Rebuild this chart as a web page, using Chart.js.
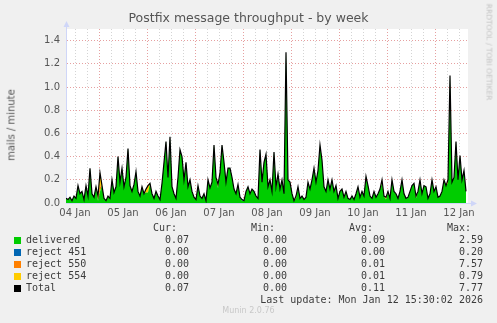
<!DOCTYPE html>
<html>
<head>
<meta charset="utf-8">
<script src="https://cdn.jsdelivr.net/npm/chart.js@4.4.1/dist/chart.umd.min.js"></script>
<style>
  html, body { margin: 0; padding: 0; background: #f0f0f0; }
  #wrap { position: relative; width: 497px; height: 323px; overflow: hidden; background: #f0f0f0; }
  #c { position: absolute; left: 0; top: 0; }
  .t { position: absolute; white-space: pre; }
  #title { left: 0; width: 497px; top: 10px; text-align: center; font: 12.5px "DejaVu Sans", sans-serif; color: #555; }
  #ytitle { left: 11px; top: 125px; transform: translate(-50%, -50%) rotate(-90deg); font: 10px "DejaVu Sans", sans-serif; color: #555; }
  #rrd { left: 489px; top: 52px; transform: translate(-50%, -50%) rotate(90deg); font: 7.5px "DejaVu Sans", sans-serif; color: #c4c4c4; }
  .m { font: 10px "DejaVu Sans Mono", monospace; color: #3c3c3c; line-height: 12px; }
  .r { text-align: right; }
  .sq { position: absolute; width: 7px; height: 7px; }
  #munin { left: 0; width: 497px; top: 306px; text-align: center; font: 8px "DejaVu Sans", sans-serif; color: #c8c8c8; }
</style>
</head>
<body>
<div id="wrap">
  <canvas id="c" width="497" height="323"></canvas>
  <div id="title" class="t">Postfix message throughput - by week</div>
  <div id="ytitle" class="t">mails / minute</div>
  <div id="rrd" class="t">RRDTOOL / TOBI OETIKER</div>
  <div id="legend"></div>
  <div id="munin" class="t">Munin 2.0.76</div>
</div>
<script>
// ---- data (hourly samples, mails / minute) ----
const dayLabels = ['04 Jan','05 Jan','06 Jan','07 Jan','08 Jan','09 Jan','10 Jan','11 Jan','12 Jan'];
const yTickLabels = ['0.0','0.2','0.4','0.6','0.8','1.0','1.2','1.4'];

const total = [0.04,0.03,0.05,0.02,0.06,0.04,0.15,0.08,0.10,0.03,
 0.15,0.06,0.30,0.08,0.05,0.14,0.06,0.26,0.15,0.04,
 0.02,0.06,0.04,0.20,0.09,0.14,0.40,0.18,0.30,0.14,
 0.22,0.47,0.15,0.10,0.16,0.27,0.10,0.06,0.14,0.08,
 0.12,0.15,0.17,0.08,0.04,0.10,0.06,0.03,0.17,0.35,
 0.53,0.22,0.57,0.14,0.08,0.04,0.22,0.46,0.40,0.20,
 0.35,0.14,0.20,0.10,0.05,0.03,0.15,0.06,0.04,0.08,
 0.02,0.20,0.13,0.18,0.50,0.22,0.16,0.26,0.50,0.35,
 0.18,0.30,0.30,0.22,0.12,0.08,0.16,0.05,0.03,0.02,
 0.10,0.14,0.08,0.12,0.10,0.06,0.04,0.46,0.18,0.35,
 0.42,0.14,0.20,0.10,0.44,0.14,0.25,0.12,0.20,0.08,
 1.30,0.20,0.18,0.08,0.02,0.06,0.14,0.04,0.06,0.03,
 0.05,0.18,0.12,0.20,0.30,0.18,0.28,0.50,0.37,0.14,
 0.10,0.20,0.12,0.20,0.10,0.15,0.04,0.10,0.12,0.05,
 0.10,0.04,0.03,0.06,0.03,0.08,0.14,0.05,0.10,0.06,
 0.23,0.15,0.06,0.04,0.10,0.05,0.08,0.12,0.20,0.06,
 0.05,0.10,0.04,0.20,0.10,0.08,0.04,0.10,0.20,0.08,
 0.04,0.05,0.10,0.15,0.17,0.06,0.10,0.20,0.08,0.15,
 0.14,0.04,0.08,0.20,0.10,0.14,0.05,0.06,0.10,0.20,
 0.15,0.20,1.10,0.18,0.22,0.53,0.20,0.41,0.20,0.28,
 0.10];

const delivered = [0.04,0.03,0.05,0.02,0.06,0.04,0.15,0.08,0.10,0.03,
 0.15,0.06,0.30,0.08,0.05,0.14,0.02,0.10,0.15,0.04,
 0.02,0.06,0.04,0.20,0.09,0.14,0.40,0.18,0.30,0.14,
 0.22,0.47,0.15,0.10,0.16,0.27,0.10,0.06,0.14,0.08,
 0.09,0.09,0.17,0.08,0.04,0.10,0.06,0.03,0.17,0.35,
 0.53,0.22,0.57,0.14,0.08,0.04,0.22,0.46,0.40,0.20,
 0.35,0.14,0.20,0.10,0.05,0.03,0.15,0.06,0.04,0.08,
 0.02,0.20,0.13,0.18,0.50,0.22,0.13,0.26,0.50,0.35,
 0.18,0.30,0.30,0.22,0.12,0.08,0.16,0.05,0.02,0.02,
 0.10,0.14,0.08,0.12,0.10,0.06,0.04,0.46,0.18,0.35,
 0.42,0.14,0.20,0.10,0.44,0.12,0.25,0.12,0.20,0.08,
 1.30,0.20,0.18,0.08,0.02,0.04,0.14,0.04,0.06,0.03,
 0.05,0.18,0.12,0.20,0.30,0.18,0.28,0.50,0.37,0.14,
 0.10,0.20,0.12,0.20,0.10,0.15,0.04,0.10,0.12,0.05,
 0.10,0.04,0.03,0.06,0.03,0.08,0.14,0.05,0.10,0.06,
 0.23,0.15,0.06,0.04,0.10,0.05,0.08,0.12,0.17,0.06,
 0.03,0.10,0.04,0.20,0.10,0.08,0.04,0.10,0.20,0.08,
 0.04,0.05,0.10,0.15,0.17,0.04,0.10,0.20,0.08,0.15,
 0.14,0.04,0.08,0.20,0.10,0.14,0.05,0.06,0.10,0.20,
 0.15,0.17,1.10,0.18,0.22,0.53,0.20,0.41,0.20,0.28,
 0.10];

// sparse reject samples: [hour index, value]
const reject451 = [[88, 0.01]];
const reject550 = [[17, 0.04], [105, 0.02], [160, 0.02]];
const reject554 = [[16, 0.04], [17, 0.12], [40, 0.03], [41, 0.06], [76, 0.03], [115, 0.02], [158, 0.03], [175, 0.02], [191, 0.03]];

// legend table
const seriesNames = ['delivered','reject 451','reject 550','reject 554','Total'];
const seriesColors = ['#00cc00','#0066b3','#ff8000','#ffcc00','#000000'];
const curVals = ['0.07','0.00','0.00','0.00','0.07'];
const minVals = ['0.00','0.00','0.00','0.00','0.00'];
const avgVals = ['0.09','0.00','0.01','0.01','0.11'];
const maxVals = ['2.59','0.20','7.57','0.79','7.77'];
const lastUpdate = 'Last update: Mon Jan 12 15:30:02 2026';

// ---- build ----
const toPts = arr => arr.map((v, i) => ({x: i, y: v}));
const sparse = pairs => {
  const m = new Map(pairs);
  return total.map((_, i) => ({x: i, y: m.has(i) ? m.get(i) : 0}));
};

const legend = document.getElementById('legend');
function addText(txt, left, top, right) {
  const d = document.createElement('div');
  d.className = 't m' + (right ? ' r' : '');
  d.textContent = txt;
  if (right) { d.style.left = (left - 400) + 'px'; d.style.width = '400px'; }
  else d.style.left = left + 'px';
  d.style.top = top + 'px';
  legend.appendChild(d);
}
addText('Cur:', 177, 222, true);
addText('Min:', 275, 222, true);
addText('Avg:', 373, 222, true);
addText('Max:', 471, 222, true);
seriesNames.forEach((n, i) => {
  const top = 233.5 + i * 12.1;
  const sq = document.createElement('div');
  sq.className = 'sq';
  sq.style.left = '14px';
  sq.style.top = (top + 3) + 'px';
  sq.style.background = seriesColors[i];
  legend.appendChild(sq);
  addText(n, 26, top, false);
  addText(curVals[i], 189, top, true);
  addText(minVals[i], 287, top, true);
  addText(avgVals[i], 385, top, true);
  addText(maxVals[i], 483, top, true);
});
addText(lastUpdate, 483, 294, true);

const HOURS = total.length; // 201 hourly samples
const gridGray = '#d4d4d4';
const gridRed = '#e6a0a0';

const bgPlugin = {
  id: 'bg',
  beforeDraw(chart) {
    const {ctx, chartArea: a} = chart;
    ctx.save();
    ctx.fillStyle = '#ffffff';
    ctx.fillRect(a.left, a.top, a.right - a.left, a.bottom - a.top);
    ctx.restore();
  },
  afterDraw(chart) {
    const {ctx, chartArea: a} = chart;
    ctx.save();
    ctx.fillStyle = '#cfd6f8';
    ctx.strokeStyle = '#cfd6f8';
    ctx.beginPath();
    ctx.moveTo(a.left + 0.5, a.top); ctx.lineTo(a.left + 0.5, a.top - 4); ctx.stroke();
    ctx.beginPath();
    ctx.moveTo(a.left + 0.5, a.top - 8); ctx.lineTo(a.left - 2.5, a.top - 2); ctx.lineTo(a.left + 3.5, a.top - 2); ctx.closePath(); ctx.fill();
    ctx.beginPath();
    ctx.moveTo(a.right, a.bottom + 0.5); ctx.lineTo(a.right + 3, a.bottom + 0.5); ctx.stroke();
    ctx.beginPath();
    ctx.moveTo(a.right + 9, a.bottom + 0.5); ctx.lineTo(a.right + 3, a.bottom - 2.5); ctx.lineTo(a.right + 3, a.bottom + 3.5); ctx.closePath(); ctx.fill();
    ctx.restore();
  }
};

new Chart(document.getElementById('c'), {
  type: 'line',
  data: {
    datasets: [
      { label: 'Total', data: toPts(total), stack: 'total', borderColor: '#000', borderWidth: 1.2, fill: false, pointRadius: 0, tension: 0 },
      { label: 'delivered', data: toPts(delivered), stack: 'parts', borderWidth: 0, borderColor: '#00cc00', backgroundColor: '#00cc00', fill: 'origin', pointRadius: 0, tension: 0 },
      { label: 'reject 451', data: sparse(reject451), stack: 'parts', borderWidth: 0, borderColor: '#0066b3', backgroundColor: '#0066b3', fill: '-1', pointRadius: 0, tension: 0 },
      { label: 'reject 550', data: sparse(reject550), stack: 'parts', borderWidth: 0, borderColor: '#ff8000', backgroundColor: '#ff8000', fill: '-1', pointRadius: 0, tension: 0 },
      { label: 'reject 554', data: sparse(reject554), stack: 'parts', borderWidth: 0, borderColor: '#ffcc00', backgroundColor: '#ffcc00', fill: '-1', pointRadius: 0, tension: 0 }
    ]
  },
  options: {
    responsive: false,
    animation: false,
    events: [],
    layout: { padding: { left: 0, top: 29, right: 29, bottom: 100 } },
    plugins: { legend: { display: false }, title: { display: false }, tooltip: { enabled: false } },
    scales: {
      x: {
        type: 'linear',
        min: 0,
        max: HOURS,
        afterBuildTicks(scale) {
          const t = [];
          for (let v = 4.5; v <= HOURS; v += 6) t.push({value: v});
          scale.ticks = t;
        },
        afterFit(scale) { scale.height = 20; },
        ticks: {
          autoSkip: false, maxRotation: 0, padding: 4,
          color: '#555',
          font: { family: 'DejaVu Sans', size: 10 },
          callback(v) {
            const k = (v - 4.5) / 24;
            return Number.isInteger(k) && dayLabels[k] ? dayLabels[k] : '';
          }
        },
        grid: {
          drawTicks: false,
          lineWidth: 1,
          color(ctx) {
            const v = ctx.tick ? ctx.tick.value : 0;
            return ((v - 16.5) % 24 === 0) ? gridRed : gridGray;
          }
        },
        border: { display: true, color: '#cfd6f8', width: 1, dash: [1, 2] }
      },
      y: {
        stacked: true,
        min: 0,
        max: 1.5,
        afterBuildTicks(scale) {
          const t = [];
          for (let k = 0; k <= 15; k++) t.push({value: k / 10});
          scale.ticks = t;
        },
        afterFit(scale) { scale.width = 66; },
        ticks: {
          padding: 6,
          color: '#555',
          font: { family: 'DejaVu Sans', size: 10 },
          callback(v) {
            const k = Math.round(v * 10);
            return k % 2 === 0 ? yTickLabels[k / 2] : '';
          }
        },
        grid: {
          drawTicks: false,
          lineWidth: 1,
          color(ctx) {
            const v = ctx.tick ? Math.round(ctx.tick.value * 10) : 1;
            return (v % 2 === 0 && v > 0) ? gridRed : gridGray;
          }
        },
        border: { display: true, color: '#cfd6f8', width: 1, dash: [1, 2] }
      }
    }
  },
  plugins: [bgPlugin]
});
</script>
</body>
</html>
